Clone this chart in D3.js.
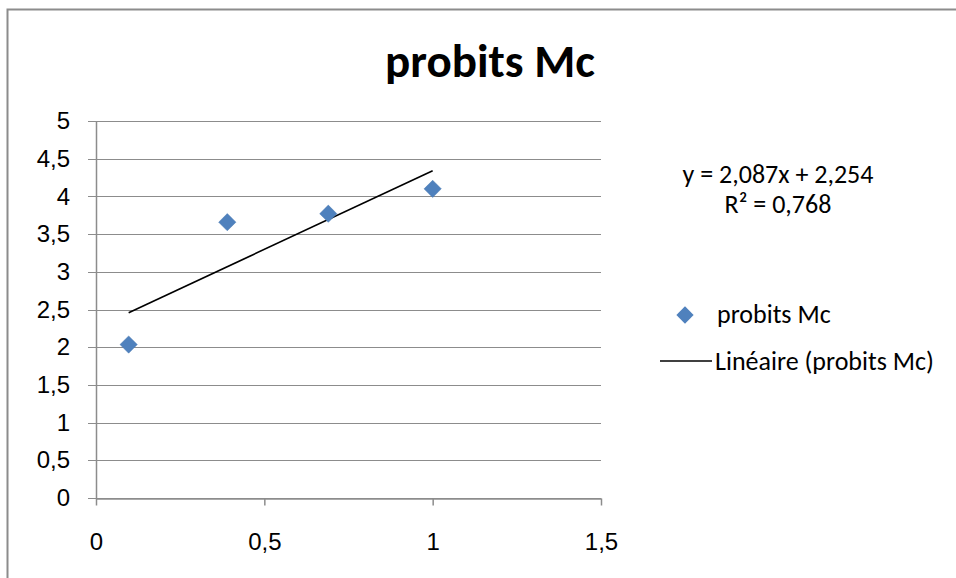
<!DOCTYPE html>
<html>
<head>
<meta charset="utf-8">
<script src="https://cdn.jsdelivr.net/npm/d3@7"></script>
<style>
  html, body { margin: 0; padding: 0; background: #fff; }
  svg { display: block; font-family: Calibri, Carlito, "Open Sans", sans-serif; }
</style>
</head>
<body>
<div id="chart"></div>
<script>
const title = "probits Mc"
const seriesName = "probits Mc"
const trendName = "Linéaire (probits Mc)"
const xValues = [0.097, 0.39, 0.69, 1.0]
const yValues = [2.035, 3.658, 3.77, 4.10]
const xTicks = [0, 0.5, 1, 1.5]
const yTicks = [0, 0.5, 1, 1.5, 2, 2.5, 3, 3.5, 4, 4.5, 5]
const trendSlope = 2.087
const trendIntercept = 2.254
const equationLines = ["y = 2,087x + 2,254", "R² = 0,768"]

const width = 956
const height = 578
const margin = { top: 121, right: 355, bottom: 80, left: 96 }
const fmt = d => String(d).replace(".", ",")

const svg = d3.select("#chart")
  .append("svg")
  .attr("width", width)
  .attr("height", height)

// outer frame (only top and left edges visible)
svg.append("path")
  .attr("d", `M7.5,${height} V9.5 H${width}`)
  .attr("fill", "none")
  .attr("stroke", "#8c8c8c")
  .attr("stroke-width", 2)

const x = d3.scaleLinear().domain([0, 1.5]).range([margin.left, width - margin.right])
const y = d3.scaleLinear().domain([0, 5]).range([height - margin.bottom, margin.top])

// gridlines
svg.append("g")
  .selectAll("line")
  .data(yTicks)
  .join("line")
  .attr("x1", margin.left - 8)
  .attr("x2", x(1.5))
  .attr("y1", d => Math.round(y(d)) + 0.5)
  .attr("y2", d => Math.round(y(d)) + 0.5)
  .attr("stroke", "#8c8c8c")
  .attr("stroke-width", 1.2)

// y axis
const yAxis = svg.append("g")
  .attr("transform", `translate(${margin.left},0)`)
  .call(d3.axisLeft(y).tickValues(yTicks).tickFormat(fmt).tickSize(0).tickPadding(26))
yAxis.select(".domain").attr("stroke", "#8c8c8c").attr("stroke-width", 1.5)
yAxis.selectAll("text").attr("font-size", 24).attr("fill", "#000")

// x axis
const xAxis = svg.append("g")
  .attr("transform", `translate(0,${Math.round(y(0)) + 0.5})`)
  .call(d3.axisBottom(x).tickValues(xTicks).tickFormat(fmt).tickSize(7).tickSizeOuter(0).tickPadding(27))
xAxis.select(".domain").attr("stroke", "#8c8c8c").attr("stroke-width", 1.5)
xAxis.selectAll("line").attr("stroke", "#8c8c8c").attr("stroke-width", 1.5)
xAxis.selectAll("text").attr("font-size", 24).attr("fill", "#000")

// trend line
const trendX = d3.extent(xValues)
svg.append("line")
  .attr("x1", x(trendX[0]))
  .attr("y1", y(trendSlope * trendX[0] + trendIntercept))
  .attr("x2", x(trendX[1]))
  .attr("y2", y(trendSlope * trendX[1] + trendIntercept))
  .attr("stroke", "#000")
  .attr("stroke-width", 1.6)

// points
const diamond = d3.symbol().type(d3.symbolDiamond2).size(190)
svg.append("g")
  .selectAll("path")
  .data(xValues.map((d, i) => [d, yValues[i]]))
  .join("path")
  .attr("d", diamond)
  .attr("transform", d => `translate(${x(d[0])},${y(d[1])})`)
  .attr("fill", "#4f81bd")
  .attr("stroke", "#4a7ab3")
  .attr("stroke-width", 0.5)

// title
svg.append("text")
  .attr("x", 490)
  .attr("y", 77)
  .attr("text-anchor", "middle")
  .attr("font-size", 47)
  .attr("font-weight", "bold")
  .text(title)

// equation
svg.append("g")
  .selectAll("text")
  .data(equationLines)
  .join("text")
  .attr("x", 778)
  .attr("y", (d, i) => 183 + i * 30)
  .attr("text-anchor", "middle")
  .attr("font-size", 26)
  .text(d => d)

// legend
const legend = svg.append("g")
legend.append("path")
  .attr("d", diamond)
  .attr("transform", "translate(685,315)")
  .attr("fill", "#4f81bd")
legend.append("text")
  .attr("x", 717)
  .attr("y", 323)
  .attr("font-size", 26)
  .text(seriesName)
legend.append("line")
  .attr("x1", 660).attr("x2", 712)
  .attr("y1", 361).attr("y2", 361)
  .attr("stroke", "#000")
  .attr("stroke-width", 1.6)
legend.append("text")
  .attr("x", 715)
  .attr("y", 370)
  .attr("font-size", 26)
  .text(trendName)
</script>
</body>
</html>
